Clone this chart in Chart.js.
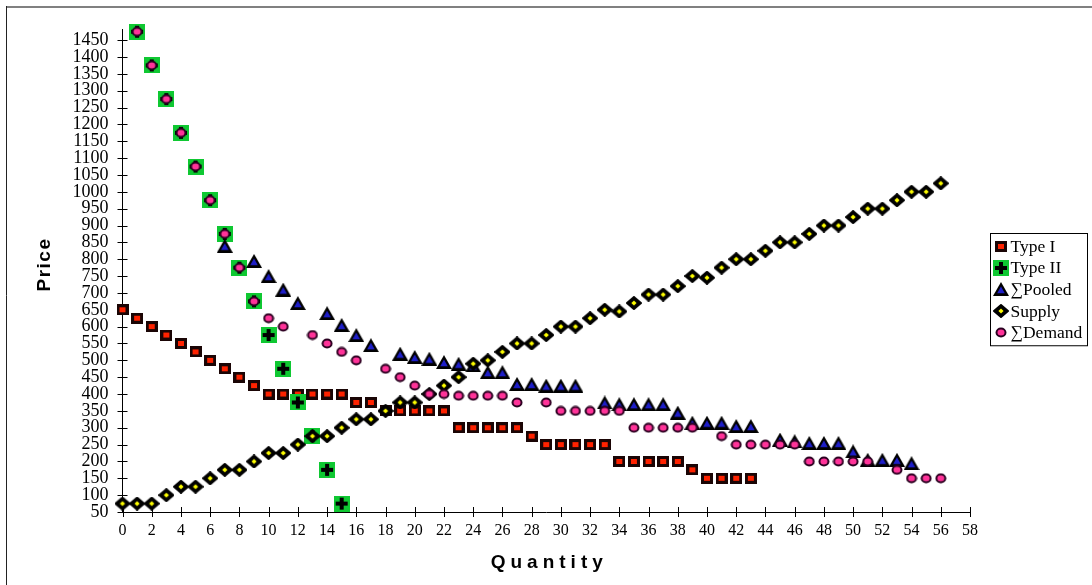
<!DOCTYPE html>
<html>
<head>
<meta charset="utf-8">
<script src="https://cdn.jsdelivr.net/npm/chart.js@4.4.1/dist/chart.umd.min.js"></script>
<style>
    html, body { margin: 0; padding: 0; background: #fff; }
    #wrap { width: 1092px; height: 585px; }
</style>
</head>
<body>
<div id="wrap"><canvas id="marketChart"></canvas></div>
<script>
// values
const qtyTypeI = [0, 1, 2, 3, 4, 5, 6, 7, 8, 9, 10, 11, 12, 13, 14, 15, 16, 17, 18, 19, 20, 21, 22,
    23, 24, 25, 26, 27, 28, 29, 30, 31, 32, 33, 34, 35, 36, 37, 38, 39, 40, 41, 42, 43];
const priceTypeI = [650, 625, 600, 575, 550, 525, 500, 475, 450, 425, 400, 400, 400, 400, 400, 400, 375, 375, 350, 350, 350, 350, 350,
    300, 300, 300, 300, 300, 275, 250, 250, 250, 250, 250, 200, 200, 200, 200, 200, 175, 150, 150, 150, 150];

const qtyTypeII = [1, 2, 3, 4, 5, 6, 7, 8, 9, 10, 11, 12, 13, 14, 15];
const priceTypeII = [1475, 1375, 1275, 1175, 1075, 975, 875, 775, 675, 575, 475, 375, 275, 175, 75];

const qtyPooled = [7, 9, 10, 11, 12, 14, 15, 16, 17, 19, 20, 21, 22, 23, 24, 25, 26, 27, 28, 29, 30, 31,
    33, 34, 35, 36, 37, 38, 39, 40, 41, 42, 43, 45, 46, 47, 48, 49, 50, 51, 52, 53, 54];
const pricePooled = [840, 795, 750, 710, 670, 640, 605, 575, 545, 520, 510, 505, 495, 490, 485, 465, 465, 430, 430, 425, 425, 425,
    375, 370, 370, 370, 370, 345, 315, 315, 315, 305, 305, 265, 260, 255, 255, 255, 230, 205, 205, 205, 195];

const qtySupply = [0, 1, 2, 3, 4, 5, 6, 7, 8, 9, 10, 11, 12, 13, 14, 15, 16, 17, 18, 19, 20, 21, 22, 23, 24, 25, 26, 27, 28,
    29, 30, 31, 32, 33, 34, 35, 36, 37, 38, 39, 40, 41, 42, 43, 44, 45, 46, 47, 48, 49, 50, 51, 52, 53, 54, 55, 56];
const priceSupply = [75, 75, 75, 100, 125, 125, 150, 175, 175, 200, 225, 225, 250, 275, 275, 300, 325, 325, 350, 375, 375, 400, 425, 450, 490, 500, 525, 550, 550,
    575, 600, 600, 625, 650, 645, 670, 695, 695, 720, 750, 745, 775, 800, 800, 825, 850, 850, 875, 900, 900, 925, 950, 950, 975, 1000, 1000, 1025];

const qtyDemand = [1, 2, 3, 4, 5, 6, 7, 8, 9, 10, 11, 13, 14, 15, 16, 18, 19, 20, 21, 22, 23, 24, 25, 26, 27,
    29, 30, 31, 32, 33, 34, 35, 36, 37, 38, 39, 41, 42, 43, 44, 45, 46, 47, 48, 49, 50, 51, 53, 54, 55, 56];
const priceDemand = [1475, 1375, 1275, 1175, 1075, 975, 875, 775, 675, 625, 600, 575, 550, 525, 500, 475, 450, 425, 400, 400, 395, 395, 395, 395, 375,
    375, 350, 350, 350, 350, 350, 300, 300, 300, 300, 300, 275, 250, 250, 250, 250, 250, 200, 200, 200, 200, 200, 175, 150, 150, 150];

const xTicks = [0, 2, 4, 6, 8, 10, 12, 14, 16, 18, 20, 22, 24, 26, 28, 30, 32, 34, 36, 38, 40, 42, 44, 46, 48, 50, 52, 54, 56, 58];
const yTicks = [50, 100, 150, 200, 250, 300, 350, 400, 450, 500, 550, 600, 650, 700, 750, 800, 850, 900, 950, 1000,
    1050, 1100, 1150, 1200, 1250, 1300, 1350, 1400, 1450];

const pts = (xs, ys) => xs.map((x, i) => ({ x: x, y: ys[i] }));

// little canvases used as point styles (and in the legend)
const makeMarker = (w, h, draw) => {
    const c = document.createElement('canvas');
    c.width = w;
    c.height = h;
    draw(c.getContext('2d'));
    return c;
};

const squareMark = makeMarker(12, 11, (g) => {
    g.fillStyle = '#1a0505';
    g.fillRect(0, 0, 12, 11);
    g.fillStyle = '#ff2200';
    g.fillRect(3, 3, 6, 5);
});

const crossMark = makeMarker(16, 16, (g) => {
    g.fillStyle = '#0fc832';
    g.fillRect(0, 0, 16, 16);
    g.fillStyle = '#000';
    g.fillRect(2, 6, 12, 4);
    g.fillRect(6, 2, 4, 12);
});

const triangleMark = makeMarker(16, 14, (g) => {
    g.fillStyle = '#000';
    g.beginPath();
    g.moveTo(0, 14); g.lineTo(8, 0); g.lineTo(16, 14);
    g.closePath();
    g.fill();
    g.fillStyle = '#1e1ec8';
    g.beginPath();
    g.moveTo(4.2, 11.3); g.lineTo(8, 4.6); g.lineTo(11.8, 11.3);
    g.closePath();
    g.fill();
});

const diamondMark = makeMarker(16, 14, (g) => {
    g.fillStyle = '#000';
    g.strokeStyle = '#000';
    g.lineJoin = 'round';
    g.lineWidth = 2;
    g.beginPath();
    g.moveTo(8, 1); g.lineTo(15, 7); g.lineTo(8, 13); g.lineTo(1, 7);
    g.closePath();
    g.fill();
    g.stroke();
    g.fillStyle = '#ffff00';
    g.beginPath();
    g.moveTo(8, 4.6); g.lineTo(10.6, 7); g.lineTo(8, 9.4); g.lineTo(5.4, 7);
    g.closePath();
    g.fill();
});

const circleMark = makeMarker(12, 11, (g) => {
    g.fillStyle = '#ff3399';
    g.strokeStyle = '#2a0020';
    g.lineWidth = 2;
    g.beginPath();
    g.ellipse(6, 5.5, 4.5, 4, 0, 0, Math.PI * 2);
    g.fill();
    g.stroke();
});

// white background + chart frame
const frame = {
    id: 'frame',
    beforeDraw(chart) {
        const c = chart.ctx;
        c.save();
        c.fillStyle = '#fff';
        c.fillRect(0, 0, chart.width, chart.height);
        c.strokeStyle = '#808080';
        c.lineWidth = 2;
        c.beginPath();
        c.moveTo(6, 7); c.lineTo(chart.width, 7);
        c.stroke();
        c.strokeStyle = '#222';
        c.lineWidth = 1;
        c.beginPath();
        c.moveTo(6.5, 6); c.lineTo(6.5, chart.height);
        c.stroke();
        c.restore();
    }
};

// tick marks that cross the axis lines
const crossTicks = {
    id: 'crossTicks',
    beforeDatasetsDraw(chart) {
        const c = chart.ctx;
        const { x, y } = chart.scales;
        const area = chart.chartArea;
        c.save();
        c.strokeStyle = '#000';
        c.lineWidth = 1;
        c.beginPath();
        x.ticks.forEach(t => {
            const px = Math.round(x.getPixelForValue(t.value)) + 0.5;
            c.moveTo(px, area.bottom - 5);
            c.lineTo(px, area.bottom + 5);
        });
        y.ticks.forEach(t => {
            const py = Math.round(y.getPixelForValue(t.value)) + 0.5;
            c.moveTo(area.left - 5, py);
            c.lineTo(area.left + 5, py);
        });
        c.stroke();
        c.restore();
    }
};

// spaced bold axis titles
const axisTitles = {
    id: 'axisTitles',
    afterDraw(chart) {
        const c = chart.ctx;
        const area = chart.chartArea;
        c.save();
        c.fillStyle = '#000';
        c.font = 'bold 19px "Liberation Sans", Arial, sans-serif';
        c.textAlign = 'center';
        c.textBaseline = 'middle';
        c.letterSpacing = '5px';
        c.fillText('Quantity', (area.left + area.right) / 2 + 3, 563);
        c.letterSpacing = '1.5px';
        c.translate(45, (area.top + area.bottom) / 2 - 6);
        c.rotate(-Math.PI / 2);
        c.fillText('Price', 0, 0);
        c.restore();
    }
};

// boxed legend at the right
const boxLegend = {
    id: 'boxLegend',
    afterDraw(chart) {
        const c = chart.ctx;
        const sets = chart.data.datasets;
        const rowH = 21.65;
        const boxW = 97;
        const boxH = sets.length * rowH + 4;
        const left = chart.chartArea.right + 20.5;
        const top = Math.round((chart.height - boxH) / 2) - 2.5;
        c.save();
        c.fillStyle = '#fff';
        c.fillRect(left, top, boxW, boxH);
        c.strokeStyle = '#000';
        c.lineWidth = 1;
        c.strokeRect(left, top, boxW, boxH);
        c.font = '17.5px "Liberation Serif", "Times New Roman", serif';
        c.fillStyle = '#000';
        c.textBaseline = 'middle';
        sets.forEach((ds, i) => {
            const cy = top + 12.5 + i * rowH;
            const img = ds.pointStyle;
            c.drawImage(img, Math.round(left + 10 - img.width / 2), Math.round(cy - img.height / 2));
            c.fillText(ds.label, left + 20, cy + 1);
        });
        c.restore();
    }
};

const marketChart = () => {
    const ctx = document.getElementById('marketChart').getContext('2d');

    const serifTicks = (size) => ({
        family: '"Liberation Serif", "Times New Roman", serif',
        size: size
    });

    new Chart(ctx, {
        type: 'scatter',
        data: {
            datasets: [
                { label: 'Type I', data: pts(qtyTypeI, priceTypeI), pointStyle: squareMark, order: 5 },
                { label: 'Type II', data: pts(qtyTypeII, priceTypeII), pointStyle: crossMark, order: 4 },
                { label: '\u2211Pooled', data: pts(qtyPooled, pricePooled), pointStyle: triangleMark, order: 3 },
                { label: 'Supply', data: pts(qtySupply, priceSupply), pointStyle: diamondMark, order: 2 },
                { label: '\u2211Demand', data: pts(qtyDemand, priceDemand), pointStyle: circleMark, order: 1 }
            ].map(ds => Object.assign(ds, { showLine: false, clip: false, pointRadius: 6 }))
        },
        options: {
            responsive: true,
            maintainAspectRatio: false,
            animation: false,
            events: [],
            layout: {
                padding: { top: 29, right: 122, left: 0, bottom: 0 }
            },
            scales: {
                x: {
                    type: 'linear',
                    min: 0,
                    max: 58,
                    afterBuildTicks: (s) => { s.ticks = xTicks.map(v => ({ value: v })); },
                    afterFit: (s) => { s.height = 73; },
                    grid: { display: false, drawTicks: false },
                    border: { color: '#000', width: 1 },
                    ticks: {
                        color: '#000',
                        font: serifTicks(16),
                        padding: 9,
                        maxRotation: 0,
                        autoSkip: false,
                        callback: (v) => String(v)
                    }
                },
                y: {
                    type: 'linear',
                    min: 50,
                    max: 1483,
                    afterBuildTicks: (s) => { s.ticks = yTicks.map(v => ({ value: v })); },
                    afterFit: (s) => { s.width = 122.5; },
                    grid: { display: false, drawTicks: false },
                    border: { color: '#000', width: 1 },
                    ticks: {
                        color: '#000',
                        font: serifTicks(18),
                        padding: 14,
                        autoSkip: false,
                        callback: (v) => String(v)
                    }
                }
            },
            plugins: {
                legend: { display: false },
                tooltip: { enabled: false }
            }
        },
        plugins: [frame, crossTicks, axisTitles, boxLegend]
    });
}

document.addEventListener('DOMContentLoaded', marketChart);
</script>
</body>
</html>
